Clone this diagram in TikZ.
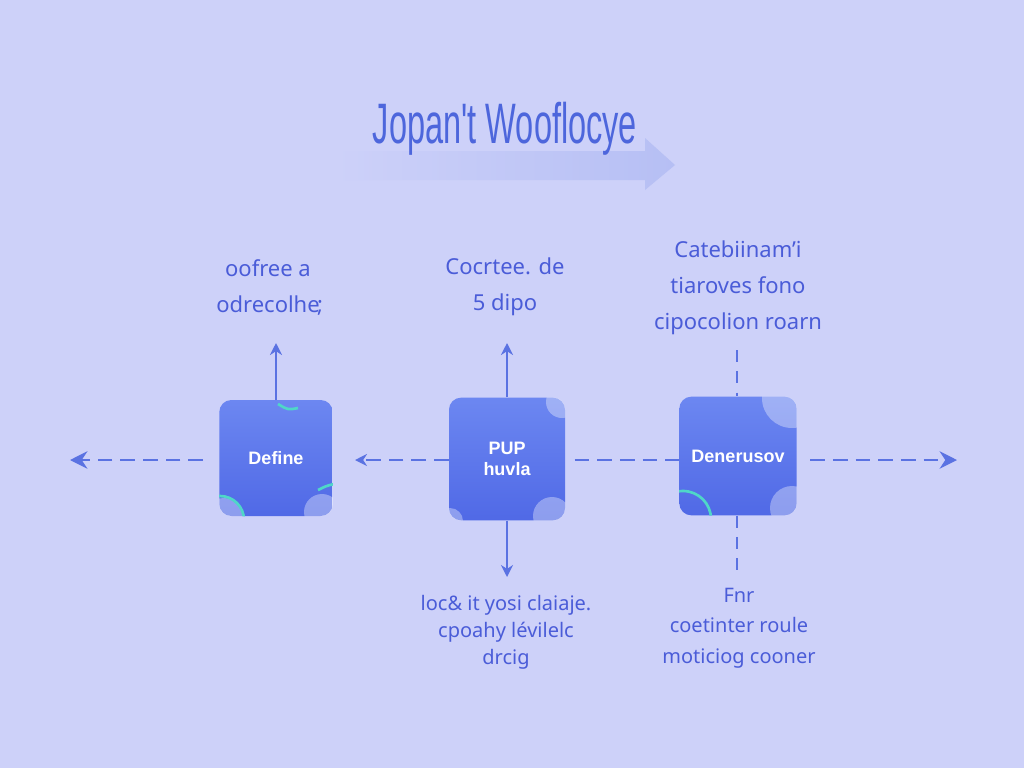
\documentclass[tikz,border=0pt]{standalone}
\usepackage{fontspec}
\setmainfont{Noto Sans}
\newfontfamily\titlefont{Liberation Sans}
\newfontfamily\boxfont{Liberation Sans}
\usetikzlibrary{arrows.meta,shapes.geometric}
\definecolor{bgc}{HTML}{CDD1F9}
\definecolor{linec}{HTML}{5A72E2}
\definecolor{txtc}{HTML}{4A5CD8}
\definecolor{titc}{HTML}{4D66DC}
\definecolor{boxa}{HTML}{6C87F1}
\definecolor{boxb}{HTML}{5069E6}
\definecolor{tealc}{HTML}{4FD6C8}
\definecolor{bandc}{HTML}{B6BFF4}
\tikzset{
  box/.style={rounded corners=9pt, minimum width=85pt, minimum height=87pt,
    top color=boxa, bottom color=boxb, draw=none, text=white,
    font=\boxfont\bfseries\fontsize{13.5}{16}\selectfont, align=center, inner sep=0pt},
  lbl/.style={text=txtc, font=\fontsize{16.5}{27}\selectfont, align=center, inner sep=0pt},
  lbls/.style={text=txtc, font=\fontsize{15}{20.3}\selectfont, align=center, inner sep=0pt},
  dashline/.style={draw=linec, line width=2.2pt, dash pattern=on 11pt off 6pt},
  solidline/.style={draw=linec, line width=1.7pt},
  bigtip/.style={-{Stealth[length=13pt,width=13pt]}},
  smalltip/.style={-{Stealth[length=9pt,width=9pt]}},
  blob/.style={fill=white, fill opacity=0.35, draw=none},
  tealarc/.style={draw=tealc, line width=2pt},
}
\begin{document}
\begin{tikzpicture}[x=0.75pt,y=-0.75pt]
\fill[bgc] (0,0) rectangle (1024,768);
\useasboundingbox (0,0) rectangle (1024,768);

% faded arrow band behind title
\shade[left color=bgc, right color=bandc, draw=none]
  (335,151) -- (645,151) -- (645,138) -- (675,165) -- (645,190) -- (645,180) -- (335,180) -- cycle;

% title
\node[text=titc, inner sep=0pt, anchor=base] (title) at (505,143)
  {\resizebox{198pt}{31pt}{\titlefont Jopan't Wooflocye}};

% boxes
\node[box] (b1) at (276,458) {Define};
\node[box, minimum width=87pt, minimum height=92pt] (b2) at (507,459) {PUP\\huvla};
\node[box, minimum width=88pt, minimum height=89pt] (b3) at (738,456) {Denerusov};

% box decorations
\begin{scope}
  \clip[rounded corners=9pt] (b1.south west) rectangle (b1.north east);
  \fill[blob] (322,512) circle (18);
  \fill[blob] (224,518) circle (20);
  \draw[tealarc] (220,520) circle (24);
  \draw[tealarc] (278,404) .. controls (288,410) .. (298,408);
  \draw[tealarc] (318,490) .. controls (326,486) .. (334,484);
\end{scope}
\begin{scope}
  \clip[rounded corners=9pt] (b2.south west) rectangle (b2.north east);
  \fill[blob] (562,402) circle (16);
  \fill[blob] (450,521) circle (13);
  \fill[blob] (552,516) circle (19);
\end{scope}
\begin{scope}
  \clip[rounded corners=9pt] (b3.south west) rectangle (b3.north east);
  \fill[blob] (792,398) circle (30);
  \fill[blob] (792,508) circle (22);
  \draw[tealarc] (683,519) circle (28);
\end{scope}

% labels
\node[lbl] (l1) at (268,287) {oofree a\\odrecolhe\rlap{\kern-2pt ;}};
\node[lbl] (l2) at (505,287) {Cocrtee. de\\5 dipo};
\node[lbl] (l3) at (738,288) {Catebiinam'i\\tiaroves fono\\cipocolion roarn};
\node[lbls] (l4) at (506,632) {loc\& it yosi claiaje.\\cpoahy lévilelc\\drcig};
\node[lbls, font=\fontsize{15}{23}\selectfont] (l5) at (739,628) {Fnr\\coetinter roule\\moticiog cooner};

% connector end points
\coordinate (farL) at (70,460);
\coordinate (farR) at (957,460);
\coordinate (m12) at (355,460);
\coordinate (u1) at (276,343);
\coordinate (u2) at (507,343);
\coordinate (d2) at (507,577);
\coordinate (u3) at (737,350);
\coordinate (d3) at (737,575);

% horizontal dashed connectors
\draw[dashline, bigtip] ([xshift=-12pt]b1.west |- farL) -- (farL);
\draw[dashline, smalltip] (b2.west |- m12) -- (m12);
\draw[dashline] ([xshift=7pt]b2.east |- farL) -- (b3.west |- farL);
\draw[dashline, bigtip] ([xshift=10pt]b3.east |- farR) -- (farR);

% vertical connectors
\draw[solidline, smalltip] (b1.north -| u1) -- (u1);
\draw[solidline, smalltip] (b2.north -| u2) -- (u2);
\draw[solidline, smalltip] (b2.south -| d2) -- (d2);
\draw[dashline, dash pattern=on 9pt off 7pt] (u3) -- (b3.north -| u3);
\draw[dashline, dash pattern=on 9pt off 7pt] (b3.south -| d3) -- (d3);
\end{tikzpicture}
\end{document}
